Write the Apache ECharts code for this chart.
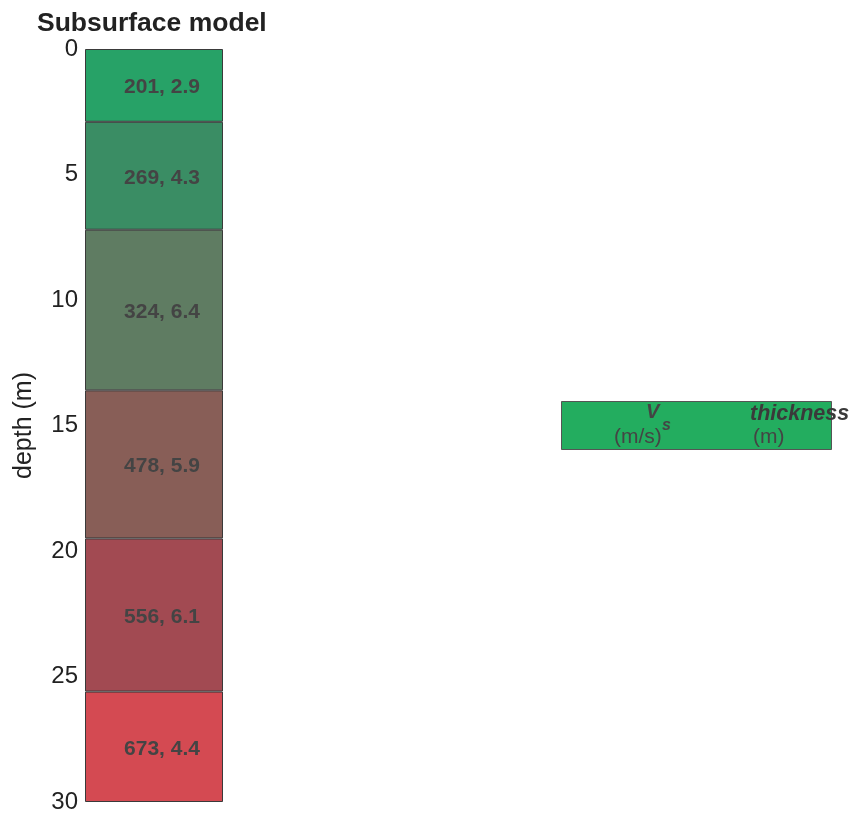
<!DOCTYPE html>
<html>
<head>
<meta charset="utf-8">
<script src="https://cdn.jsdelivr.net/npm/echarts@6/dist/echarts.min.js"></script>
<style>html,body{margin:0;padding:0;background:#fff;}#c{width:854px;height:814px;}</style>
</head>
<body>
<div id="c"></div>
<script>
// Layer data (top to bottom)
const vs = [201, 269, 324, 478, 556, 673];
const thickness = [2.9, 4.3, 6.4, 5.9, 6.1, 4.4];
const layerColors = ['#27a267', '#3a8d64', '#5f7c62', '#885e57', '#a24a52', '#d44a52'];
const depthTicks = [0, 5, 10, 15, 20, 25, 30];

const chart = echarts.init(document.getElementById('c'), null, {renderer: 'canvas'});
const series = vs.map((v, i) => ({
  type: 'bar',
  stack: 'model',
  barWidth: '100%',
  data: [thickness[i]],
  itemStyle: {color: layerColors[i], borderColor: '#3a3a3a', borderWidth: 1},
  label: {
    show: true,
    position: 'inside',
    offset: [8, 2],
    formatter: () => v + ', ' + thickness[i],
    fontFamily: 'Liberation Sans, Arial, sans-serif',
    fontWeight: 'bold',
    fontSize: 21,
    color: '#444'
  },
  silent: true,
  animation: false
}));

chart.setOption({
  animation: false,
  title: {
    text: 'Subsurface model',
    left: 32, top: 5,
    textStyle: {fontFamily: 'Liberation Sans, Arial, sans-serif', fontWeight: 'bold', fontSize: 26.5, color: '#222'}
  },
  grid: {left: 85, top: 49, width: 138, height: 753, containLabel: false},
  xAxis: {
    type: 'category', data: [''],
    axisLine: {show: false}, axisTick: {show: false}, axisLabel: {show: false}
  },
  yAxis: {
    type: 'value', inverse: true, min: 0, max: 30, interval: 5,
    name: 'depth (m)', nameLocation: 'middle', nameGap: 48, nameRotate: 90,
    nameTextStyle: {fontFamily: 'Liberation Sans, Arial, sans-serif', fontSize: 25, color: '#222'},
    axisLine: {show: false}, axisTick: {show: false}, splitLine: {show: false},
    axisLabel: {
      margin: 7,
      fontFamily: 'Liberation Sans, Arial, sans-serif', fontSize: 24, color: '#222',
      formatter: (val) => depthTicks.includes(val) ? String(val) : ''
    }
  },
  series: series,
  graphic: [
    {type: 'rect', left: 561, top: 401, shape: {width: 270, height: 48},
     style: {fill: '#23ad5f', stroke: '#555', lineWidth: 1}},
    {type: 'text', left: 646, top: 402,
     style: {text: 'V', font: 'italic bold 20px Liberation Sans, Arial, sans-serif', fill: '#444'}},
    {type: 'text', left: 662, top: 418,
     style: {text: 's', font: 'italic bold 16px Liberation Sans, Arial, sans-serif', fill: '#444'}},
    {type: 'text', left: 614, top: 427,
     style: {text: '(m/s)', font: '21px Liberation Sans, Arial, sans-serif', fill: '#444'}},
    {type: 'text', left: 750, top: 403,
     style: {text: 'thickness', font: 'italic bold 21.5px Liberation Sans, Arial, sans-serif', fill: '#3a3a3a'}},
    {type: 'text', left: 753, top: 427,
     style: {text: '(m)', font: '21px Liberation Sans, Arial, sans-serif', fill: '#444'}}
  ]
});
</script>
</body>
</html>
